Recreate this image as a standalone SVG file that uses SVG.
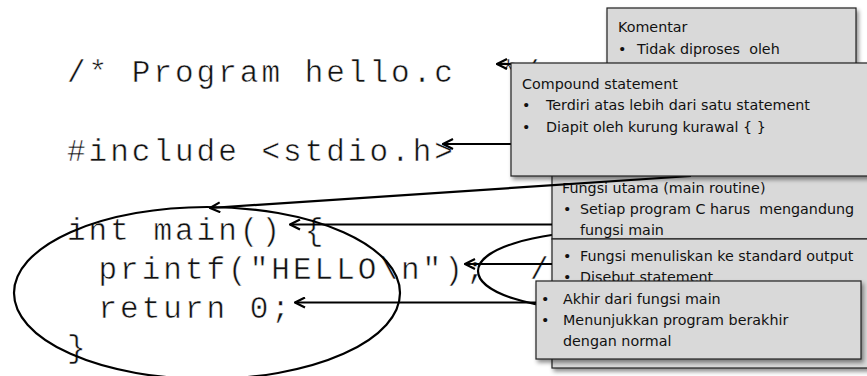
<svg xmlns="http://www.w3.org/2000/svg" width="867" height="376" viewBox="0 0 867 376">
<defs>
<style>
.code{font-family:"Liberation Mono","Courier New",monospace;font-size:31px;letter-spacing:3px;fill:#111;stroke:#fff;stroke-width:0.5px;white-space:pre}
.box{fill:#d9d9d9;stroke:#222;stroke-width:1.2;filter:url(#sh)}
.t{font-family:"DejaVu Sans","Liberation Sans",sans-serif;font-size:14.3px;fill:#111;white-space:pre}
.ln{fill:none;stroke:#000;stroke-width:2.2;marker-end:url(#ah)}
.ell{fill:none;stroke:#000;stroke-width:2.2}
</style>
<filter id="sh" x="-10%" y="-10%" width="130%" height="140%">
<feDropShadow dx="2" dy="3" stdDeviation="2" flood-color="#000" flood-opacity="0.45"/>
</filter>
<clipPath id="aboveBox">
<rect x="0" y="0" width="867" height="63"/>
<rect x="0" y="0" width="511" height="376"/>
</clipPath>
<marker id="ah" viewBox="0 0 12 12" refX="11" refY="6" markerWidth="12" markerHeight="12" markerUnits="userSpaceOnUse" orient="auto">
<path d="M1,1 L11,6 L1,11" fill="none" stroke="#000" stroke-width="2.2"/>
</marker>
</defs>
<rect width="867" height="376" fill="#fff"/>
<g id="code">
<text class="code" x="67" y="82">/* Program hello.c</text>
<text class="code" x="499" y="82" clip-path="url(#aboveBox)">*/</text>
<text class="code" x="67" y="161">#include &lt;stdio.h&gt;</text>
<text class="code" x="67" y="240">int main() {</text>
<text class="code" x="98.5" y="279">printf("HELLO\n");</text>
<text class="code" x="530" y="279">/</text>
<text class="code" x="98.5" y="318">return 0;</text>
<text class="code" x="67" y="357">}</text>
</g>
<g id="highlights">
<ellipse class="ell" cx="207" cy="293" rx="193" ry="86"/>
<ellipse class="ell" cx="600" cy="271" rx="122" ry="39"/>
</g>
<g id="komentar">
<rect class="box" x="607" y="8" width="249" height="60"/>
<text class="t" x="618" y="32">Komentar</text>
<text class="t" x="618" y="54">•</text>
<text class="t" x="637" y="54" xml:space="preserve">Tidak diproses  oleh</text>
</g>
<g id="fungsi-utama">
<rect class="box" x="552" y="150" width="330" height="89"/>
<text class="t" x="562" y="193">Fungsi utama (main routine)</text>
<text class="t" x="563" y="214">•</text>
<text class="t" x="580" y="214" xml:space="preserve">Setiap program C harus  mengandung</text>
<text class="t" x="580" y="235">fungsi main</text>
</g>
<g id="printf-note">
<rect class="box" x="552" y="239" width="330" height="129"/>
<text class="t" x="563" y="261">•</text>
<text class="t" x="580" y="261">Fungsi menuliskan ke standard output</text>
<text class="t" x="563" y="282">•</text>
<text class="t" x="580" y="282">Disebut statement</text>
</g>
<g id="return-note">
<rect class="box" x="536" y="281" width="325" height="78"/>
<text class="t" x="541" y="304">•</text>
<text class="t" x="563" y="304">Akhir dari fungsi main</text>
<text class="t" x="541" y="325">•</text>
<text class="t" x="563" y="325">Menunjukkan program berakhir</text>
<text class="t" x="563" y="346">dengan normal</text>
</g>
<g id="connectors">
<line class="ln" x1="515" y1="64" x2="497" y2="64"/>
<line class="ln" x1="512" y1="144" x2="443" y2="144"/>
<line class="ln" x1="691" y1="176" x2="210" y2="208"/>
<line class="ln" x1="552" y1="224.5" x2="290" y2="224.5"/>
<line class="ln" x1="552" y1="264" x2="465" y2="264"/>
<line class="ln" x1="536" y1="302.5" x2="295" y2="302.5"/>
</g>
<g id="compound">
<rect class="box" x="511" y="63" width="370" height="113"/>
<text class="t" x="522" y="89">Compound statement</text>
<text class="t" x="522" y="110">•</text>
<text class="t" x="546" y="110">Terdiri atas lebih dari satu statement</text>
<text class="t" x="522" y="132">•</text>
<text class="t" x="546" y="132">Diapit oleh kurung kurawal { }</text>
</g>
</svg>
